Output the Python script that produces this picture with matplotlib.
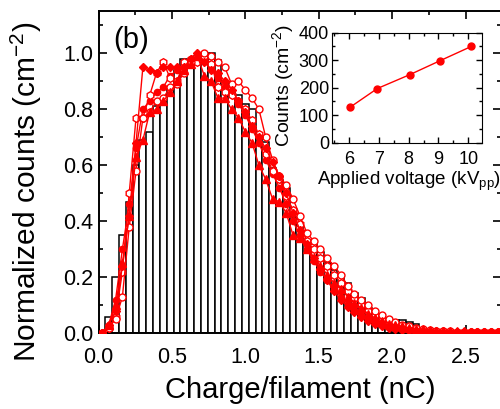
import numpy as np
import matplotlib
matplotlib.use("Agg")
import matplotlib.pyplot as plt
from matplotlib.ticker import MultipleLocator

plt.rcParams['font.family'] = ['Liberation Sans', 'DejaVu Sans']
plt.rcParams['mathtext.fontset'] = 'custom'
plt.rcParams['mathtext.rm'] = 'Liberation Sans'
plt.rcParams['mathtext.it'] = 'Liberation Sans:italic'

# ---------------- data ----------------
bin_width = 0.0465
hist_heights = [0.0, 0.06, 0.20, 0.35, 0.47, 0.60, 0.69, 0.72, 0.81, 0.83,
                0.88, 0.94, 0.978, 0.97, 0.99, 0.99, 1.0, 0.976, 0.90, 0.867,
                0.85, 0.818, 0.80, 0.708, 0.684, 0.59, 0.548, 0.52, 0.417, 0.387,
                0.33, 0.325, 0.29, 0.25, 0.226, 0.21, 0.18, 0.145, 0.127, 0.089,
                0.072, 0.065, 0.055, 0.048, 0.048, 0.039, 0.032, 0.018, 0.01, 0.006,
                0.004, 0.003]

s_diamond = [0.0, 0.03, 0.08, 0.24, 0.42, 0.68, 0.95, 0.94, 0.93, 0.95,
             0.95, 0.95, 0.95, 0.98, 1.0, 0.97, 0.94, 0.93, 0.90, 0.87,
             0.83, 0.79, 0.74, 0.70, 0.66, 0.61, 0.56, 0.50, 0.43, 0.37,
             0.32, 0.27, 0.23, 0.19, 0.15, 0.12, 0.095, 0.075, 0.058, 0.045,
             0.035, 0.027, 0.02, 0.016, 0.013, 0.011, 0.009, 0.008, 0.007, 0.006,
             0.006, 0.005, 0.005, 0.005, 0.004, 0.004, 0.004, 0.004, 0.003]
s_circle = [0.0, 0.02, 0.05, 0.13, 0.38, 0.58, 0.77, 0.79, 0.83, 0.84,
            0.88, 0.89, 0.93, 0.97, 0.99, 1.0, 0.99, 0.97, 0.95, 0.89,
            0.90, 0.87, 0.84, 0.80, 0.70, 0.62, 0.56, 0.53, 0.48, 0.42,
            0.36, 0.33, 0.30, 0.27, 0.24, 0.21, 0.17, 0.14, 0.12, 0.10,
            0.08, 0.065, 0.05, 0.04, 0.03, 0.025, 0.02, 0.015, 0.012, 0.01,
            0.008, 0.007, 0.006, 0.005, 0.005, 0.004, 0.004, 0.003, 0.003]
s_triangle = [0.0, 0.03, 0.10, 0.25, 0.42, 0.63, 0.69, 0.79, 0.80, 0.83,
              0.86, 0.90, 0.94, 0.96, 0.99, 0.92, 0.90, 0.84, 0.84, 0.80,
              0.77, 0.72, 0.68, 0.60, 0.55, 0.48, 0.47, 0.43, 0.35, 0.34,
              0.30, 0.27, 0.24, 0.21, 0.18, 0.16, 0.13, 0.11, 0.09, 0.07,
              0.055, 0.045, 0.035, 0.03, 0.025, 0.02, 0.017, 0.014, 0.012, 0.01,
              0.009, 0.008, 0.007, 0.007, 0.006, 0.006, 0.005, 0.005, 0.005]
s_hexagon = [0.0, 0.02, 0.06, 0.22, 0.50, 0.77, 0.77, 0.85, 0.93, 0.97,
             0.91, 0.90, 0.97, 0.98, 0.97, 0.99, 0.96, 0.88, 0.86, 0.85,
             0.83, 0.80, 0.76, 0.71, 0.64, 0.58, 0.55, 0.49, 0.44, 0.39,
             0.33, 0.30, 0.27, 0.24, 0.21, 0.18, 0.15, 0.125, 0.10, 0.08,
             0.065, 0.05, 0.04, 0.032, 0.025, 0.02, 0.016, 0.013, 0.01, 0.008,
             0.007, 0.006, 0.005, 0.005, 0.004, 0.004, 0.003, 0.003, 0.003]
s_dot = [0.0, 0.03, 0.12, 0.30, 0.46, 0.66, 0.80, 0.83, 0.86, 0.88,
         0.92, 0.94, 0.95, 0.97, 0.99, 0.98, 0.95, 0.91, 0.88, 0.85,
         0.82, 0.78, 0.73, 0.68, 0.62, 0.57, 0.52, 0.46, 0.40, 0.35,
         0.30, 0.26, 0.22, 0.19, 0.16, 0.13, 0.105, 0.085, 0.065, 0.05,
         0.04, 0.03, 0.024, 0.019, 0.015, 0.012, 0.01, 0.009, 0.008, 0.007,
         0.006, 0.006, 0.005, 0.005, 0.004, 0.004, 0.004, 0.003, 0.003]

voltage = [6.05, 6.95, 8.05, 9.05, 10.1]
counts = [130, 197, 248, 298, 350]

# ---------------- figure ----------------
W, H = 500, 409
fig = plt.figure(figsize=(W / 100, H / 100), dpi=100)

def px_axes(l, t, r, b):
    return fig.add_axes([l / W, 1 - b / H, (r - l) / W, (b - t) / H])

ax = px_axes(98.5, 11, 500.5, 333.3)
red = '#FF0000'

centers_h = (np.arange(len(hist_heights)) + 0.5) * bin_width
ax.bar(centers_h, hist_heights, width=bin_width, facecolor='white',
       edgecolor='black', linewidth=1.1, zorder=2)

styles = [
    (s_dot, dict(marker='o', mfc=red, ms=4.5)),
    (s_hexagon, dict(marker='h', mfc='white', ms=5.5)),
    (s_circle, dict(marker='o', mfc='white', ms=5)),
    (s_triangle, dict(marker='^', mfc=red, ms=5.5)),
    (s_diamond, dict(marker='D', mfc=red, ms=4.5)),
]
for series, st in styles:
    xs = (np.arange(len(series)) + 0.5) * bin_width
    ax.plot(xs, series, color=red, lw=1.0, mec=red, mew=1.0, zorder=3,
            clip_on=True, **st)

ax.set_xlim(0, (500.5 - 98.5) / 146.8)
ax.set_ylim(0, (333.3 - 11) / 280)
ax.xaxis.set_major_locator(MultipleLocator(0.5))
ax.xaxis.set_minor_locator(MultipleLocator(0.25))
ax.yaxis.set_major_locator(MultipleLocator(0.2))
ax.yaxis.set_minor_locator(MultipleLocator(0.1))
ax.xaxis.set_major_formatter(matplotlib.ticker.FormatStrFormatter('%.1f'))
ax.yaxis.set_major_formatter(matplotlib.ticker.FormatStrFormatter('%.1f'))
ax.tick_params(which='both', direction='in', top=True, right=True, width=1.2)
ax.tick_params(which='major', length=6, labelsize=15.5)
ax.tick_params(which='minor', length=3)
ax.tick_params(axis='x', which='major', pad=10)
ax.tick_params(axis='y', which='major', pad=4)
for sp in ax.spines.values():
    sp.set_linewidth(1.4)

ax.set_xlabel('Charge/filament (nC)', fontsize=21)
ax.set_ylabel('Normalized counts (cm$^{-2}$)', fontsize=21.5)
ax.xaxis.set_label_coords(0.502, -0.132)
ax.yaxis.set_label_coords(-0.135, 0.44)
ax.text(113 / W, 1 - 40 / H, '(b)', transform=fig.transFigure, fontsize=21,
        va='center', ha='left')

# ---------------- inset ----------------
ins = px_axes(331.7, 32.7, 481.7, 142.7)
ins.plot(voltage, counts, color=red, lw=1.0, marker='o', ms=5, mfc=red, mec=red)
ins.set_xlim(5.42, 10.45)
ins.set_ylim(0, 400)
ins.xaxis.set_major_locator(MultipleLocator(1))
ins.xaxis.set_minor_locator(MultipleLocator(0.5))
ins.yaxis.set_major_locator(MultipleLocator(100))
ins.yaxis.set_minor_locator(MultipleLocator(50))
ins.tick_params(which='both', direction='in', top=True, right=True, width=1.0)
ins.tick_params(which='major', length=4, labelsize=13)
ins.tick_params(which='minor', length=2)
ins.tick_params(axis='x', pad=6)
ins.tick_params(axis='y', pad=2)
ins.set_xlabel('Applied voltage (kV$_{\\mathrm{pp}}$)', fontsize=13.5)
ins.set_ylabel('Counts (cm$^{-2}$)', fontsize=14)
ins.xaxis.set_label_coords(0.515, -0.245)
ins.yaxis.set_label_coords(-0.235, 0.52)

fig.savefig('out.png', dpi=100)
